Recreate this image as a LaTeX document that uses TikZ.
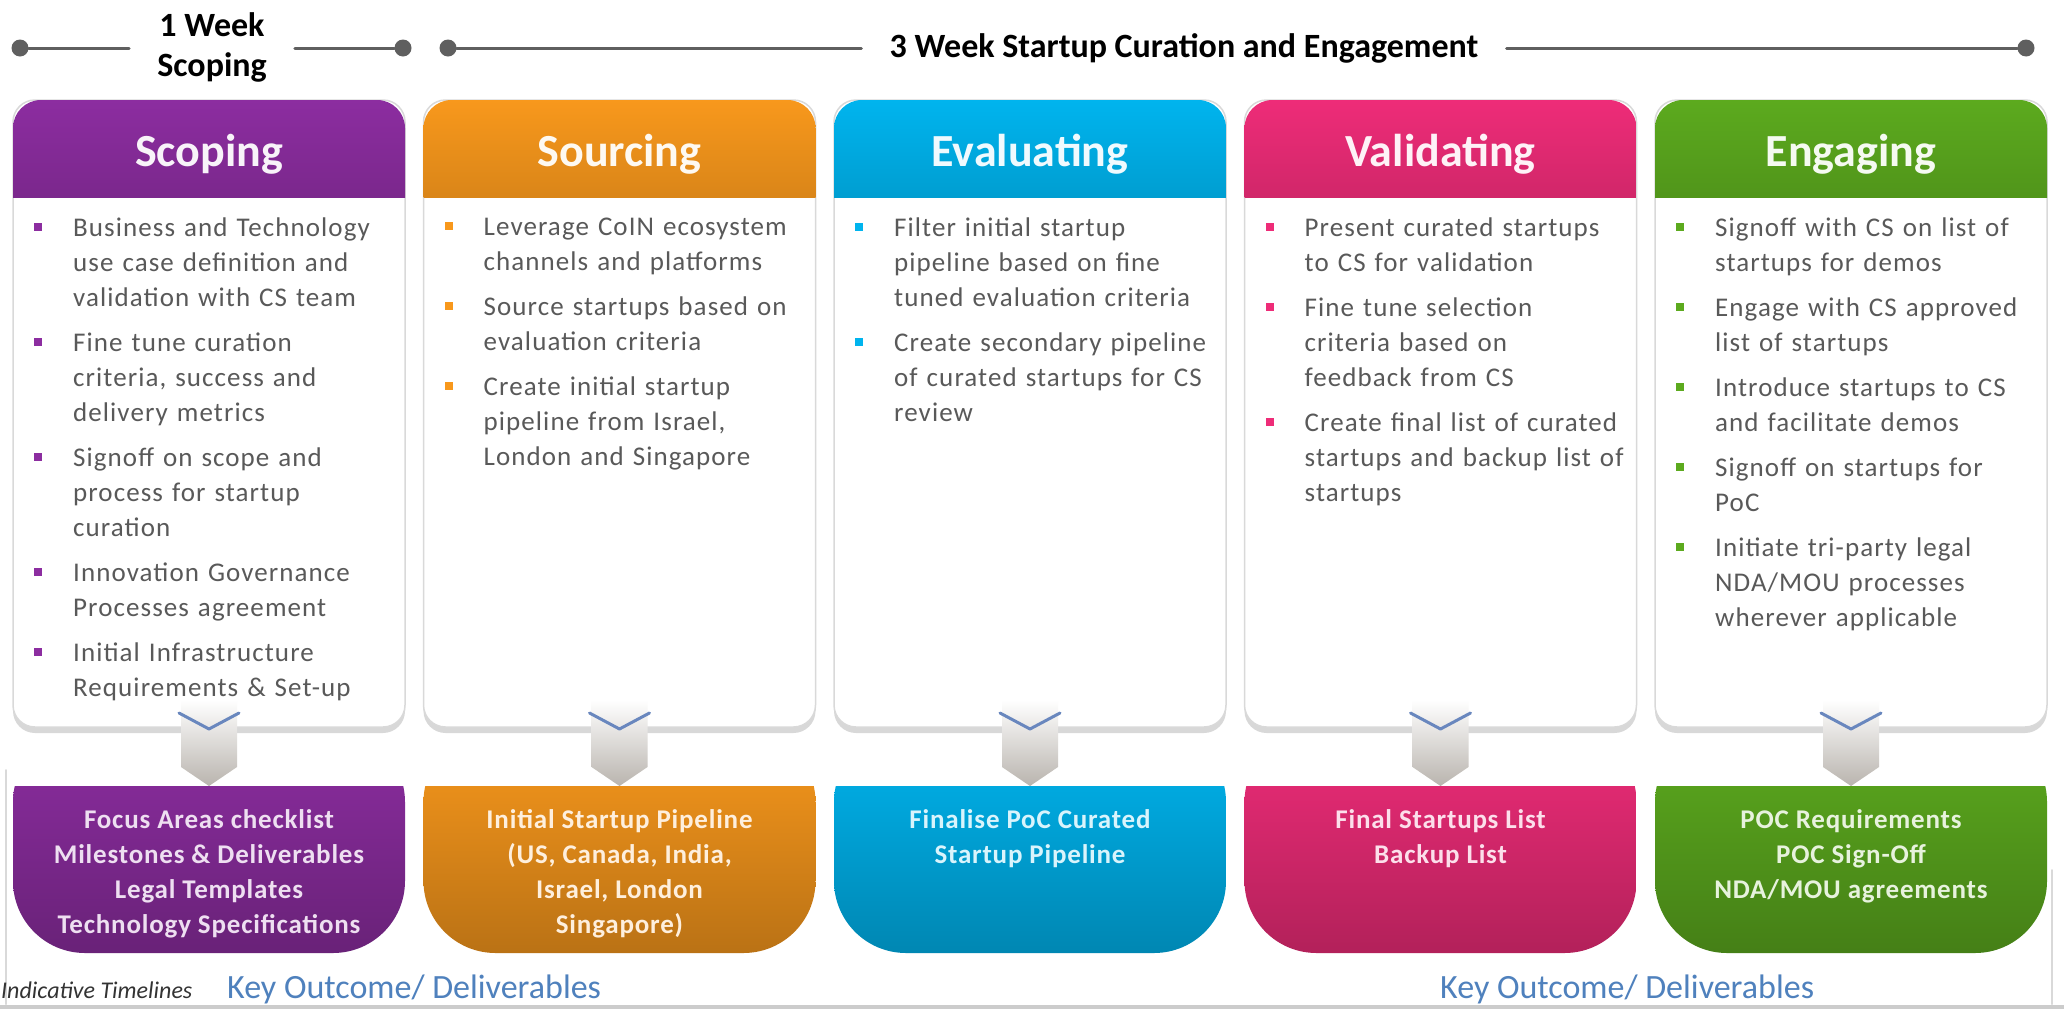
\documentclass[tikz,border=0pt]{standalone}
\usepackage{fontspec}
\setmainfont{Carlito}
\newfontfamily\bodyfont[LetterSpace=4]{Carlito}
\newfontfamily\delfont[LetterSpace=3]{Carlito}
\usetikzlibrary{shadows}

\definecolor{scop}{RGB}{140,45,160}
\definecolor{sour}{RGB}{248,152,28}
\definecolor{eval}{RGB}{0,180,238}
\definecolor{vali}{RGB}{238,44,120}
\definecolor{enga}{RGB}{92,170,30}
\definecolor{bodygray}{RGB}{89,89,89}
\definecolor{tlgray}{RGB}{95,95,95}
\definecolor{keyblue}{RGB}{79,129,189}
\definecolor{chevgray}{RGB}{185,180,174}
\definecolor{vblue}{RGB}{105,135,190}

\newcommand\bitem[1]{\noindent\llap{\textcolor{bulc}{\rule[6pt]{8pt}{8pt}}\hspace{31pt}}#1\par\vspace{10pt}}

\newcommand\scopbody{%
\bitem{Business and Technology\\use case definition and\\validation with CS team}%
\bitem{Fine tune curation\\criteria, success and\\delivery metrics}%
\bitem{Signoff on scope and\\process for startup\\curation}%
\bitem{Innovation Governance\\Processes agreement}%
\bitem{Initial Infrastructure\\Requirements \& Set-up}}
\newcommand\sourbody{%
\bitem{Leverage CoIN ecosystem\\channels and platforms}%
\bitem{Source startups based on\\evaluation criteria}%
\bitem{Create initial startup\\pipeline from Israel,\\London and Singapore}}
\newcommand\evalbody{%
\bitem{Filter initial startup\\pipeline based on fine\\tuned evaluation criteria}%
\bitem{Create secondary pipeline\\of curated startups for CS\\review}}
\newcommand\valibody{%
\bitem{Present curated startups\\to CS for validation}%
\bitem{Fine tune selection\\criteria based on\\feedback from CS}%
\bitem{Create final list of curated\\startups and backup list of\\startups}}
\newcommand\engabody{%
\bitem{Signoff with CS on list of\\startups for demos}%
\bitem{Engage with CS approved\\list of startups}%
\bitem{Introduce startups to CS\\and facilitate demos}%
\bitem{Signoff on startups for\\PoC}%
\bitem{Initiate tri-party legal\\NDA/MOU processes\\wherever applicable}}

\newcommand\scopdel{Focus Areas checklist\\Milestones \& Deliverables\\Legal Templates\\Technology Specifications}
\newcommand\sourdel{Initial Startup Pipeline\\(US, Canada, India,\\Israel, London\\Singapore)}
\newcommand\evaldel{Finalise PoC Curated\\Startup Pipeline}
\newcommand\validel{Final Startups List\\Backup List}
\newcommand\engadel{POC Requirements\\POC Sign-Off\\NDA/MOU agreements}

\begin{document}
\begin{tikzpicture}[x=1pt, y=1pt, line join=round, line cap=round]
\tikzset{
  tline/.style={tlgray, line width=3pt},
  dot/.style={circle, fill=tlgray, minimum size=17pt, inner sep=0pt},
  tltxt/.style={font=\fontsize{34}{40}\selectfont\bfseries, align=center, inner xsep=28pt, inner ysep=0pt},
  headtxt/.style={font=\fontsize{46}{50}\selectfont\bfseries, inner sep=0pt},
  bodytxt/.style={font=\bodyfont\fontsize{27}{35}\selectfont, text=bodygray, text width=335pt, align=left, inner sep=0pt},
  deltxt/.style={font=\delfont\bfseries\fontsize{27}{35}\selectfont, align=center, inner sep=0pt},
  keytxt/.style={font=\fontsize{34}{38}\selectfont, text=keyblue, anchor=base west, inner sep=0pt},
  vline/.style={vblue, line width=3pt}
}
\useasboundingbox (0,0) rectangle (2064,-1010);
\fill[white] (0,0) rectangle (2064,-1010);
\draw[gray!30, line width=2pt] (6,-770) -- (6,-1004);
\draw[gray!30, line width=2pt] (2052,-870) -- (2052,-1004);
\draw[gray!40, line width=4pt] (0,-1007) -- (2064,-1007);

\node[dot] (d1) at (20,-48) {};
\node[dot] (d2) at (403,-48) {};
\node[dot] (d3) at (448,-48) {};
\node[dot] (d4) at (2026,-48) {};
\node[tltxt] (wk1) at (212,-47) {1 Week\\Scoping};
\node[tltxt, anchor=base] (wk3) at (1184,-57) {3 Week Startup Curation and Engagement};
\draw[tline] (d1) -- (d1 -| wk1.west);
\draw[tline] (wk1.east |- d2) -- (d2);
\draw[tline] (d3) -- (d3 -| wk3.west);
\draw[tline] (wk3.east |- d4) -- (d4);

\foreach \i/\col/\head/\bodytext/\deltext in {0/scop/Scoping/\scopbody/\scopdel, 1/sour/Sourcing/\sourbody/\sourdel, 2/eval/Evaluating/\evalbody/\evaldel, 3/vali/Validating/\valibody/\validel, 4/enga/Engaging/\engabody/\engadel}
{
  \pgfmathsetmacro\x{13+410.5*\i}
  \pgfmathsetmacro\cx{\x+196}
  \colorlet{bulc}{\col}
  \fill[white, draw=gray!30, line width=1.5pt, rounded corners=22, drop shadow={opacity=0.3, shadow xshift=0pt, shadow yshift=-6pt}] (\x,-100) rectangle ++(392,-627);
  \begin{scope}
    \clip (\x,-99) rectangle ++(392,-98);
    \shade[top color=\col, bottom color=\col!80!black, rounded corners=28] (\x,-100) rectangle ++(392,-160);
  \end{scope}
  \node[headtxt, text=\col!6!white, anchor=base] (hd\i) at (\cx,-166) {\head};
  \node[bodytxt, anchor=north west] (bd\i) at (\x+60,-218) {\bodytext};
  \shade[top color=white, bottom color=chevgray] (\cx-28,-700) -- ++(56,0) -- ++(0,-67) -- (\cx,-786) -- (\cx-28,-767) -- cycle;
  \draw[vline] (\cx-30,-713) -- (\cx,-729) -- (\cx+30,-713);
  \begin{scope}
    \clip (\x,-786) rectangle ++(392,-180);
    \shade[top color=\col, bottom color=\col!75!black, rounded corners=72] (\x,-730) rectangle ++(392,-223);
  \end{scope}
  \node[deltxt, text=\col!15!white, anchor=north] (dl\i) at (\cx,-809) {\deltext};
}

\node[font=\fontsize{24}{27}\selectfont\itshape, text=black!80, anchor=base west, inner sep=0pt] (note) at (1,-998) {Indicative Timelines};
\node[keytxt] (key1) at (227,-998) {Key Outcome/ Deliverables};
\node[keytxt] (key2) at (1440,-998) {Key Outcome/ Deliverables};
\end{tikzpicture}
\end{document}
